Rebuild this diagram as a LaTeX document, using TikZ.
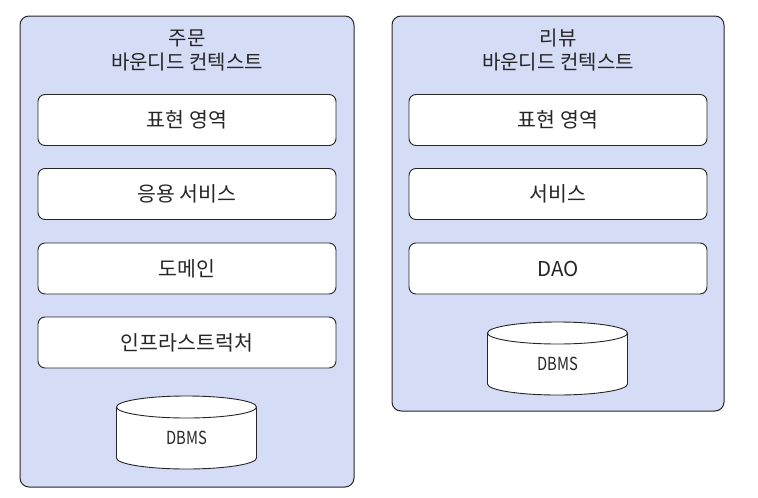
\documentclass[tikz,border=0pt]{standalone}
\usepackage{fontspec}
\setmainfont{Noto Sans CJK KR}
\usepackage{tikz}
\usetikzlibrary{positioning}
\definecolor{ctxfill}{HTML}{D4DCF6}
\definecolor{ink}{HTML}{262626}

\tikzset{
  context/.style={draw=ink,fill=ctxfill,rounded corners=9pt,line width=1pt,
    minimum width=#1,inner sep=0pt},
  layer/.style={draw=ink,fill=white,rounded corners=7pt,line width=0.9pt,
    minimum width=298pt,minimum height=51pt,inner sep=0pt,
    font=\fontsize{20.5}{22}\selectfont,text=ink},
  ctxtitle/.style={align=center,font=\fontsize{20}{24}\selectfont,text=ink},
  dbtext/.style={font=\fontsize{18}{20}\selectfont,text=ink},
}

\begin{document}
\begin{tikzpicture}[x=1pt,y=-1pt]
\path[use as bounding box] (0,0) rectangle (758,498);

% Order context: four layers on top of its own database.
\node[context=334pt,minimum height=471pt] (order) at (187,251.5) {};
\node[ctxtitle] (ordertitle) at (187,50) {주문\\바운디드 컨텍스트};
\node[layer] (orderui) at (187,120) {표현 영역};
\node[layer] (orderapp) at (187,194) {응용 서비스};
\node[layer] (orderdomain) at (187,268.5) {도메인};
\node[layer] (orderinfra) at (187,342.5) {인프라스트럭처};

% Review context: a plain three-tier stack.
\node[context=332pt,minimum height=395pt] (review) at (558,213.5) {};
\node[ctxtitle] (reviewtitle) at (558,50) {리뷰\\바운디드 컨텍스트};
\node[layer] (reviewui) at (558,120) {표현 영역};
\node[layer] (reviewsvc) at (558,194) {서비스};
\node[layer] (reviewdao) at (558,268.5) {DAO};

% Cylinders: bottom rim, body, sides, then the top lid.
\foreach \cx/\ty/\by/\nm in {186.5/407/458/orderdb,557.5/333/384/reviewdb}{
  \draw[ink,fill=white,line width=0.9pt] (\cx,\by) ellipse [x radius=70,y radius=11];
  \fill[white] (\cx-70,\ty) rectangle (\cx+70,\by);
  \draw[ink,line width=0.9pt] (\cx-70,\ty) -- (\cx-70,\by);
  \draw[ink,line width=0.9pt] (\cx+70,\ty) -- (\cx+70,\by);
  \draw[ink,fill=white,line width=0.9pt] (\cx,\ty) ellipse [x radius=70,y radius=11];
  \node[dbtext] (\nm) at (\cx,{(\ty+\by)/2+5}) {\scalebox{0.82}[1]{DBMS}};
}
\end{tikzpicture}
\end{document}
